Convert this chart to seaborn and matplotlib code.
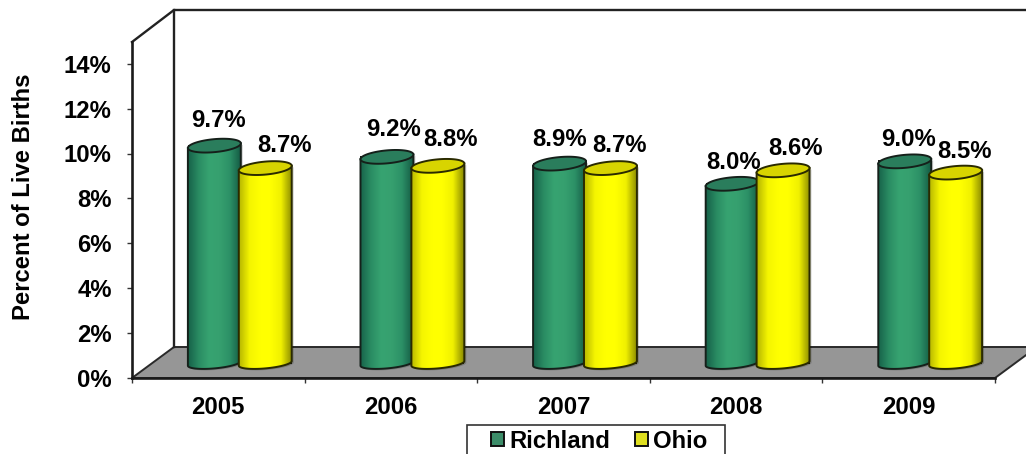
import matplotlib
matplotlib.use("Agg")
import matplotlib.pyplot as plt
import seaborn as sns
import numpy as np
import pandas as pd
from matplotlib.colors import LinearSegmentedColormap
from matplotlib.patches import Polygon, Rectangle

years = ["2005", "2006", "2007", "2008", "2009"]
richland = [9.7, 9.2, 8.9, 8.0, 9.0]
ohio = [8.7, 8.8, 8.7, 8.6, 8.5]
y_ticks = [0, 2, 4, 6, 8, 10, 12, 14]

# hand placed labels in the original, px from the top centre of each bar
rich_dx = [4, 7, 0, 1, 4]
rich_dy = [-25, -27, -24, -21, -22]
ohio_dx = [19, 13, 9, 12, 9]
ohio_dy = [-23, -26, -23, -22, -21]

plt.rcParams["font.family"] = ["Liberation Sans", "DejaVu Sans"]
plt.rcParams["font.weight"] = "bold"
FS = 17.2
DARK = "#1a1a1a"

W, H = 1026, 454
fig = plt.figure(figsize=(W / 100, H / 100), dpi=100, facecolor="white")

# back walls and floor, in pixel coords
bg = fig.add_axes([0, 0, 1, 1], zorder=0)
bg.set_xlim(0, W)
bg.set_ylim(H, 0)
bg.axis("off")
bg.add_patch(Polygon([(132, 378), (995, 378), (1037, 347), (174, 347)], fc="#969696", ec="#2a2a2a", lw=1.4))
bg.plot([132, 174, 1030], [42, 10, 10], color="#222222", lw=1.7)
bg.plot([174, 174], [10, 347], color="#222222", lw=1.7)
# legend frame runs off the bottom of the picture
bg.add_patch(Rectangle((466.5, 424.5), 258, 40, fc="white", ec="#333333", lw=1.2))

ax = fig.add_axes([132 / W, (H - 378) / H, 863 / W, 336 / H], zorder=1)
ax.patch.set_visible(False)

df = pd.DataFrame({
    "year": years * 2,
    "pct": richland + ohio,
    "area": ["Richland"] * 5 + ["Ohio"] * 5,
})
sns.barplot(df, x="year", y="pct", hue="area", palette=["#2f9a6b", "#ffff00"], width=0.59, gap=0,
            errorbar=None, edgecolor="#111111", linewidth=1.4, ax=ax)

ax.set_xlim(-0.5, 4.5)
ax.set_ylim(0, 336 / 22.45)
for s in ["top", "right"]:
    ax.spines[s].set_visible(False)
for s in ["left", "bottom"]:
    ax.spines[s].set_linewidth(1.9)
    ax.spines[s].set_color(DARK)
ax.set_yticks(y_ticks, [f"{t}%" for t in y_ticks])
ax.set_xticks(np.arange(-0.5, 5), minor=True)
ax.tick_params(axis="y", length=3.6, width=1, color="#333333", pad=11, labelsize=FS)
ax.tick_params(axis="x", which="major", length=0, pad=13, labelsize=FS)
ax.tick_params(axis="x", which="minor", length=3.6, width=1, color="#333333")
ax.set_xlabel("")
ax.set_ylabel("Percent of Live Births", fontsize=FS, fontweight="bold")
ax.yaxis.set_label_coords((35 - 132) / 863, (378 - 197) / 336)

sns.move_legend(ax, loc="center", bbox_to_anchor=(599 / W, 1 - 441 / H), bbox_transform=fig.transFigure,
                ncol=2, title=None, frameon=False, fontsize=FS,
                handlelength=0.55, handleheight=0.55, handletextpad=0.2, columnspacing=1.05, borderpad=0.2,
                borderaxespad=0)

# cylinder look on top of the seaborn bars
ov = fig.add_axes([0, 0, 1, 1], zorder=2)
ov.patch.set_visible(False)
ov.axis("off")

cmaps = [
    LinearSegmentedColormap.from_list("g", ["#17634a", "#2a8c63", "#37a371", "#36a06f", "#2c9066", "#155c45"]),
    LinearSegmentedColormap.from_list("y", ["#b8b800", "#f5f500", "#ffff00", "#ffff00", "#f0f000", "#8f8f00"]),
]
tops = ["#2a7d5c", "#d8d400"]
edges = ["#15201a", "#2a2a00"]
tilt = np.tan(np.radians(5))
t = np.linspace(0, 2 * np.pi, 80)
px_base = 0.65  # bars stand back from the front axis, floor offset in data units
px_shift = 21.5 * 5 / 863


def draw_cylinder(bar, kind, z, dx, dy, val):
    bar.set_y(px_base)
    bar.set_x(bar.get_x() + px_shift)
    corners = ax.transData.transform([(bar.get_x(), bar.get_y()),
                                      (bar.get_x() + bar.get_width(), bar.get_y() + bar.get_height())])
    (x0, y0), (x1, y1) = fig.transFigure.inverted().transform(corners)
    x0, x1 = x0 * W, x1 * W
    y_base, y_top = (1 - y0) * H, (1 - y1) * H
    cx = (x0 + x1) / 2
    a = (x1 - x0) / 2 + 1

    low = np.linspace(np.pi, 0, 40)
    bx = cx + a * np.cos(low)
    by = y_base + 5 * np.sin(low) - (bx - cx) * tilt
    body = [(cx - a, y_top + a * tilt)] + list(zip(bx, by)) + [(cx + a, y_top - a * tilt)]

    shadow = [(x + 2, y + 1.5) for x, y in body]
    ov.add_patch(Polygon(shadow, closed=True, fc="#000000", ec="none", alpha=0.18, zorder=z - 0.1))

    grad = np.linspace(0, 1, 64).reshape(1, -1)
    im = ov.imshow(grad, cmap=cmaps[kind], extent=(cx - a, cx + a, y_base + 12, y_top - 8), aspect="auto", zorder=z)
    outline = Polygon(body, closed=True, fc="none", ec=edges[kind], lw=1.4, zorder=z + 0.1)
    ov.add_patch(outline)
    im.set_clip_path(outline)

    ex = cx + a * np.cos(t)
    ey = y_top + 6.5 * np.sin(t) - (ex - cx) * tilt
    ov.add_patch(Polygon(np.column_stack([ex, ey]), fc=tops[kind], ec=edges[kind], lw=1.4, zorder=z + 0.2))
    ov.text(cx + dx, y_top + dy, f"{val:.1f}%", fontsize=FS, fontweight="bold", ha="center", va="center",
            color="black", zorder=100)


for i in range(len(years)):
    draw_cylinder(ax.containers[0][i], 0, 3 + 2 * i, rich_dx[i], rich_dy[i], richland[i])
    draw_cylinder(ax.containers[1][i], 1, 4 + 2 * i, ohio_dx[i], ohio_dy[i], ohio[i])

ov.set_xlim(0, W)
ov.set_ylim(H, 0)

fig.savefig("out.png", dpi=100)
